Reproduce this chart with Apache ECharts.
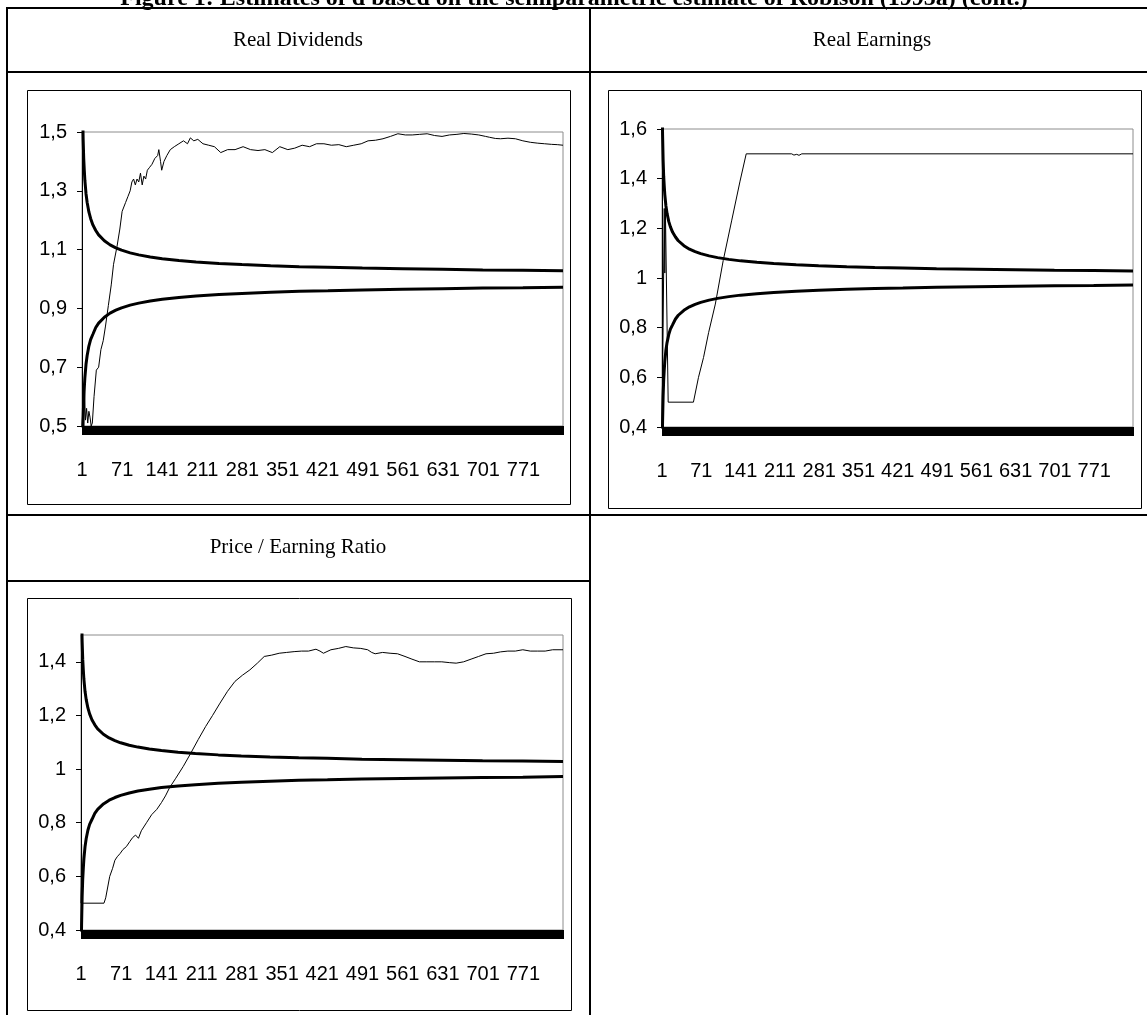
<!DOCTYPE html>
<html>
<head>
<meta charset="utf-8">
<script src="https://cdn.jsdelivr.net/npm/echarts@6/dist/echarts.min.js"></script>
<style>
html,body{margin:0;padding:0;background:#ffffff;}
#c{width:1147px;height:1015px;}
</style>
</head>
<body>
<div id="c"></div>
<script>
// ---------- data ----------
const N = 840; // number of bandwidths m (x categories 1..N)
const categories = Array.from({length: N}, (_, i) => String(i + 1));

const titleText = 'Figure 1: Estimates of d based on the semiparametric estimate of Robison (1995a) (cont.)';
const panelTitles = ['Real Dividends', 'Real Earnings', 'Price / Earning Ratio'];

// confidence band (same in all panels)
const boundM     = [1, 2, 3, 4, 5, 6, 8, 10, 13, 16, 20, 25, 30, 40, 50, 60, 70, 85, 100, 120, 141, 170, 200, 240, 280, 330, 380, 430, 490, 560, 630, 700, 770, 840];
const upperBound = [1.82, 1.58, 1.475, 1.41, 1.37, 1.336, 1.29, 1.26, 1.228, 1.206, 1.184, 1.165, 1.15, 1.13, 1.116, 1.106, 1.098, 1.089, 1.082, 1.075, 1.069, 1.063, 1.058, 1.053, 1.049, 1.045, 1.042, 1.04, 1.037, 1.035, 1.033, 1.031, 1.03, 1.028];
const lowerBound = [0.18, 0.42, 0.525, 0.59, 0.63, 0.664, 0.71, 0.74, 0.772, 0.794, 0.812, 0.835, 0.85, 0.87, 0.884, 0.894, 0.902, 0.911, 0.918, 0.925, 0.931, 0.937, 0.942, 0.947, 0.951, 0.955, 0.958, 0.96, 0.963, 0.965, 0.967, 0.969, 0.97, 0.972];

// Real Dividends estimate
const dividendsM = [1, 3, 5, 7, 9, 11, 13, 15, 17, 19, 22, 26, 30, 34, 38, 42, 47, 52, 56, 62, 67, 71, 77, 81, 85, 88, 91, 94, 97, 100, 103, 106, 109, 112, 115, 119, 123, 128, 133, 135, 138, 140, 144, 149, 155, 162, 170, 178, 185, 190, 196, 203, 212, 222, 232, 243, 255, 268, 282, 295, 308, 320, 333, 346, 360, 372, 385, 398, 410, 423, 436, 449, 462, 475, 488, 500, 513, 526, 539, 552, 565, 577, 590, 603, 616, 629, 642, 655, 667, 680, 693, 705, 712, 722, 731, 744, 757, 770, 783, 796, 808, 820, 830, 840];
const dividendsD = [0.5, 0.5, 0.64, 0.52, 0.56, 0.51, 0.55, 0.53, 0.5, 0.51, 0.6, 0.69, 0.7, 0.76, 0.79, 0.84, 0.91, 0.98, 1.05, 1.11, 1.17, 1.23, 1.26, 1.28, 1.3, 1.33, 1.34, 1.32, 1.34, 1.33, 1.36, 1.32, 1.35, 1.34, 1.37, 1.38, 1.39, 1.41, 1.42, 1.44, 1.4, 1.37, 1.4, 1.42, 1.44, 1.45, 1.46, 1.47, 1.46, 1.48, 1.47, 1.475, 1.46, 1.455, 1.45, 1.43, 1.44, 1.44, 1.45, 1.44, 1.437, 1.44, 1.43, 1.45, 1.44, 1.445, 1.455, 1.45, 1.46, 1.46, 1.455, 1.457, 1.45, 1.455, 1.46, 1.47, 1.472, 1.477, 1.485, 1.494, 1.49, 1.49, 1.492, 1.494, 1.488, 1.485, 1.49, 1.492, 1.495, 1.493, 1.49, 1.485, 1.482, 1.478, 1.477, 1.479, 1.477, 1.47, 1.465, 1.462, 1.46, 1.458, 1.457, 1.455];

// Real Earnings estimate
const earningsM = [1, 3, 5, 6, 7, 12, 57, 66, 75, 84, 96, 110, 125, 140, 151, 232, 236, 241, 245, 250, 840];
const earningsD = [0.4, 0.8, 1.28, 1.02, 1.28, 0.5, 0.5, 0.6, 0.68, 0.78, 0.895, 1.07, 1.23, 1.39, 1.5, 1.5, 1.495, 1.498, 1.494, 1.5, 1.5];

// Price / Earning Ratio estimate
const peM = [1, 2, 3, 41, 44, 51, 56, 60, 64, 69, 74, 80, 86, 91, 96, 101, 106, 115, 124, 133, 141, 148, 155, 166, 179, 192, 205, 218, 230, 243, 256, 269, 282, 295, 308, 320, 333, 346, 359, 372, 385, 397, 410, 417, 423, 436, 449, 462, 475, 488, 500, 507, 513, 526, 539, 552, 565, 577, 590, 603, 616, 629, 642, 654, 667, 680, 693, 706, 719, 731, 744, 757, 770, 783, 796, 809, 822, 840];
const peD = [0.5, 0.72, 0.5, 0.5, 0.52, 0.6, 0.63, 0.66, 0.673, 0.685, 0.7, 0.711, 0.73, 0.745, 0.754, 0.742, 0.77, 0.8, 0.83, 0.85, 0.875, 0.9, 0.93, 0.966, 1.01, 1.059, 1.11, 1.159, 1.2, 1.246, 1.29, 1.327, 1.35, 1.37, 1.395, 1.42, 1.425, 1.432, 1.435, 1.438, 1.44, 1.44, 1.447, 1.44, 1.432, 1.445, 1.45, 1.457, 1.452, 1.45, 1.445, 1.435, 1.43, 1.435, 1.432, 1.43, 1.42, 1.41, 1.4, 1.4, 1.4, 1.4, 1.397, 1.395, 1.4, 1.41, 1.42, 1.43, 1.432, 1.437, 1.44, 1.44, 1.445, 1.44, 1.44, 1.44, 1.445, 1.445];

// y-axis tick labels of each panel
const yTicksDividends = [0.5, 0.7, 0.9, 1.1, 1.3, 1.5];
const yTicksEarnings  = [0.4, 0.6, 0.8, 1, 1.2, 1.4, 1.6];
const yTicksPE        = [0.4, 0.6, 0.8, 1, 1.2, 1.4];
const yRanges = [[0.5, 1.5], [0.4, 1.6], [0.4, 1.5]];
const xLabelStep = 70; // labels 1, 71, 141, ...

// ---------- build ----------
function pairs(ms, vals) { return ms.map((m, i) => [m - 1, vals[i]]); }
const fmt = v => String(+(+v).toFixed(2)).replace('.', ',');

function hasFont(name) {
  const ctx = document.createElement('canvas').getContext('2d');
  const s = '0123456789,0123456789';
  ctx.font = '40px monospace';
  const a = ctx.measureText(s).width;
  ctx.font = '40px "' + name + '", monospace';
  return ctx.measureText(s).width !== a;
}
const narrow = hasFont('Liberation Sans Narrow');
const axisFont = narrow ? 'Liberation Sans Narrow' : 'Liberation Sans';
const axisSize = narrow ? 22 : 20;

const grids = [
  {left: 82, top: 132, width: 481, height: 294},
  {left: 662, top: 129, width: 471, height: 298},
  {left: 81, top: 635, width: 482, height: 295}
];
const yTicks = [yTicksDividends, yTicksEarnings, yTicksPE];
const estimates = [pairs(dividendsM, dividendsD), pairs(earningsM, earningsD), pairs(peM, peD)];

const option = {
  animation: false,
  backgroundColor: '#ffffff',
  grid: grids.map(g => Object.assign({show: true, borderColor: '#8c8c8c', borderWidth: 1, backgroundColor: 'transparent'}, g)),
  xAxis: grids.map((g, i) => ({
    type: 'category', gridIndex: i, data: categories, boundaryGap: false,
    axisLine: {show: true, lineStyle: {color: '#000', width: 1}},
    axisTick: {show: true, interval: 0, length: 9, inside: false, lineStyle: {color: '#000', width: 1}},
    axisLabel: {interval: xLabelStep - 1, margin: narrow ? 32 : 34, fontSize: axisSize, fontFamily: axisFont, color: '#000'},
    splitLine: {show: false}
  })),
  yAxis: grids.map((g, i) => ({
    type: 'value', gridIndex: i, min: yRanges[i][0], max: yRanges[i][1],
    axisLine: {show: true, lineStyle: {color: '#000', width: 1}},
    axisTick: {show: true, length: 5, customValues: yTicks[i], lineStyle: {color: '#000'}},
    axisLabel: {customValues: yTicks[i], formatter: fmt, margin: 15, fontSize: axisSize, fontFamily: axisFont, color: '#000'},
    splitLine: {show: false}
  })),
  series: []
};
for (let i = 0; i < 3; i++) {
  option.series.push({type: 'line', name: 'upper', xAxisIndex: i, yAxisIndex: i, data: pairs(boundM, upperBound), symbol: 'none', lineStyle: {color: '#000', width: 3}, z: 3});
  option.series.push({type: 'line', name: 'lower', xAxisIndex: i, yAxisIndex: i, data: pairs(boundM, lowerBound), symbol: 'none', lineStyle: {color: '#000', width: 3}, z: 3});
  option.series.push({type: 'line', name: 'd', xAxisIndex: i, yAxisIndex: i, data: estimates[i], symbol: 'none', lineStyle: {color: '#000', width: 1}, z: 4});
}

const L = (x1, y1, x2, y2) => ({type: 'line', shape: {x1, y1, x2, y2}, style: {stroke: '#000', lineWidth: 2}, silent: true});
const R = (x, y, w, h) => ({type: 'rect', shape: {x, y, width: w, height: h}, style: {stroke: '#000', lineWidth: 1, fill: 'none'}, silent: true});
const T = (x, y, text, font, va) => ({type: 'text', x, y, style: {text, font, fill: '#000', align: 'center', verticalAlign: va || 'middle'}, silent: true});

option.graphic = [
  T(574, 11, titleText, 'bold 24px "Liberation Serif"', 'bottom'),
  L(6, 8, 1147, 8), L(7, 8, 7, 1015), L(590, 8, 590, 1015),
  L(6, 72, 1147, 72), L(6, 515, 1147, 515), L(6, 581, 590, 581),
  T(298, 40, panelTitles[0], '21px "Liberation Serif"'),
  T(872, 40, panelTitles[1], '21px "Liberation Serif"'),
  T(298, 547, panelTitles[2], '21px "Liberation Serif"'),
  R(27.5, 90.5, 543, 414), R(608.5, 90.5, 533, 418), R(27.5, 598.5, 544, 412)
];

const chart = echarts.init(document.getElementById('c'), null, {renderer: 'canvas'});
chart.setOption(option);
</script>
</body>
</html>
